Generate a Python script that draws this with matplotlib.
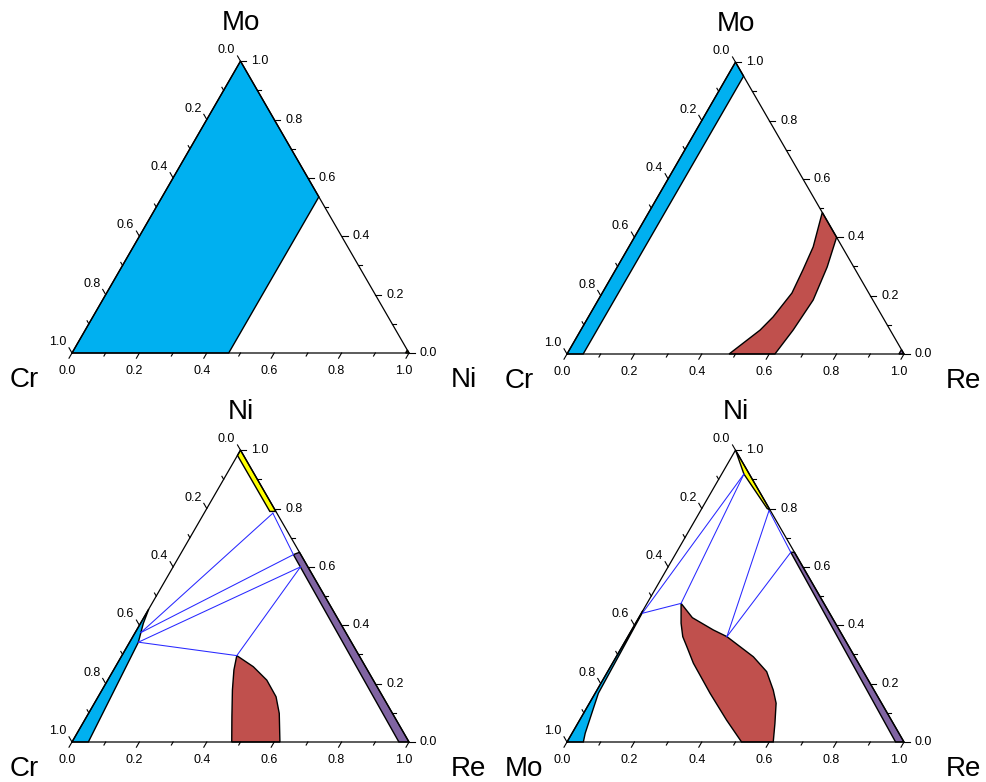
import numpy as np
import matplotlib.pyplot as plt
from matplotlib.patches import Polygon

plt.rcParams['font.family'] = ['Liberation Sans', 'DejaVu Sans']

# compositions are given as (fraction of right-corner element, fraction of top element)

# panel a: Cr - Ni - Mo
a_names = ("Mo", "Cr", "Ni")
a_cyan_b = [0.0, 0.465, 0.465, 0.0]
a_cyan_t = [0.0, 0.0, 0.535, 1.0]
a_yellow_b = [1.0, 0.99, 0.99]
a_yellow_t = [0.0, 0.0, 0.01]

# panel b: Cr - Re - Mo
b_names = ("Mo", "Cr", "Re")
b_cyan_b = [0.0, 0.048, 0.048, 0.0]
b_cyan_t = [0.0, 0.0, 0.952, 1.0]
b_red_b = [0.481, 0.532, 0.548, 0.563, 0.556, 0.547, 0.515, 0.600, 0.623, 0.638, 0.630, 0.617]
b_red_t = [0.0, 0.082, 0.127, 0.209, 0.288, 0.367, 0.485, 0.400, 0.298, 0.185, 0.082, 0.0]
b_purple_b = [1.0, 0.985, 0.985]
b_purple_t = [0.0, 0.0, 0.015]

# panel c: Cr - Re - Ni
c_names = ("Ni", "Cr", "Re")
c_cyan_b = [0.0, 0.0485, 0.026, 0.0084, 0.0]
c_cyan_t = [0.0, 0.0, 0.3415, 0.4066, 0.4557]
c_yellow_b = [0.0, 0.21, 0.192, 0.0]
c_yellow_t = [1.0, 0.79, 0.79, 0.982]
c_purple_b = [0.35, 1.0, 0.97, 0.336]
c_purple_t = [0.65, 0.0, 0.0, 0.642]
c_red_b = [0.474, 0.431, 0.387, 0.357, 0.341, 0.409, 0.472, 0.528, 0.566, 0.617]
c_red_t = [0.0, 0.087, 0.178, 0.247, 0.296, 0.258, 0.212, 0.155, 0.098, 0.0]
c_tie_b0 = [0.017, 0.017, 0.026, 0.026, 0.204, 0.378]
c_tie_t0 = [0.375, 0.375, 0.342, 0.342, 0.784, 0.600]
c_tie_b1 = [0.204, 0.336, 0.378, 0.341, 0.336, 0.341]
c_tie_t1 = [0.784, 0.642, 0.600, 0.296, 0.642, 0.296]

# panel d: Mo - Re - Ni
d_names = ("Ni", "Mo", "Re")
d_cyan_b = [0.0, 0.0485, 0.039, 0.0096, 0.002, 0.0]
d_cyan_t = [0.0, 0.0, 0.030, 0.167, 0.443, 0.45]
d_yellow_b = [0.0, 0.205, 0.194, 0.066]
d_yellow_t = [1.0, 0.795, 0.800, 0.918]
d_purple_b = [0.35, 1.0, 0.975, 0.339]
d_purple_t = [0.65, 0.0, 0.0, 0.650]
d_red_b = [0.101, 0.159, 0.242, 0.294, 0.407, 0.472, 0.523, 0.554, 0.585, 0.612,
           0.518, 0.436, 0.341, 0.240, 0.192, 0.163, 0.135]
d_red_t = [0.475, 0.426, 0.384, 0.361, 0.292, 0.241, 0.178, 0.133, 0.064, 0.0,
           0.0, 0.075, 0.167, 0.270, 0.327, 0.361, 0.407]
d_tie_b0 = [0.003, 0.101, 0.003, 0.203, 0.203, 0.339]
d_tie_t0 = [0.441, 0.475, 0.441, 0.793, 0.793, 0.650]
d_tie_b1 = [0.066, 0.066, 0.101, 0.294, 0.339, 0.294]
d_tie_t1 = [0.918, 0.918, 0.475, 0.361, 0.650, 0.361]

tick_values = np.round(np.arange(0, 1.01, 0.1), 1)

CYAN = "#00B0F0"
RED = "#C0504D"
YELLOW = "#FFFF00"
PURPLE = "#8064A2"
BLUE = "#2828FF"

W, H, S = 987, 782, 337
XMIN, XMAX, YMIN, YMAX = -0.25, 1.3, -0.15, 1.05
R3 = np.sqrt(3) / 2


def tern(b, t):
    b = np.asarray(b, float)
    t = np.asarray(t, float)
    return b + t / 2, t * R3


def make_axes(fig, x0, y0):
    left = (x0 + XMIN * S) / W
    bottom = (H - (y0 - YMIN * S)) / H
    ax = fig.add_axes([left, bottom, (XMAX - XMIN) * S / W, (YMAX - YMIN) * S / H])
    ax.set_xlim(XMIN, XMAX)
    ax.set_ylim(YMIN, YMAX)
    ax.axis('off')
    return ax


def fill(ax, b, t, color):
    x, y = tern(b, t)
    ax.add_patch(Polygon(np.column_stack([x, y]), closed=True, facecolor=color,
                         edgecolor='black', lw=1.0, zorder=2))


def ties(ax, b0, t0, b1, t1):
    x0, y0 = tern(b0, t0)
    x1, y1 = tern(b1, t1)
    for i in range(len(x0)):
        ax.plot([x0[i], x1[i]], [y0[i], y1[i]], color=BLUE, lw=0.75, zorder=3)


def frame(ax, names):
    x, y = tern([0, 1, 0, 0], [0, 0, 1, 0])
    ax.plot(x, y, color='black', lw=0.9, zorder=4)
    px = 1.0 / S
    for i, v in enumerate(tick_values):
        major = i % 2 == 0
        ln = (6 if major else 3.5) * px
        # bottom axis
        bx, by = tern(v, 0)
        ax.plot([bx, bx - 0.5 * ln], [by, by - R3 * ln], color='black', lw=0.8)
        # left axis (left-corner element fraction)
        lx, ly = tern(0, 1 - v)
        ax.plot([lx, lx - 0.5 * ln], [ly, ly + R3 * ln], color='black', lw=0.8)
        # right axis (top element fraction)
        rx, ry = tern(1 - v, v)
        ax.plot([rx, rx + ln], [ry, ry], color='black', lw=0.8)
        if major:
            lab = f"{v:.1f}"
            ax.text(bx - 5 * px, by - 18 * px, lab, ha='center', va='center', fontsize=9)
            ax.text(lx - 14 * px, ly + 11 * px, lab, ha='center', va='center', fontsize=9)
            ax.text(rx + 11 * px, ry, lab, ha='left', va='center', fontsize=9)
    top, left, right = names
    ax.text(0.5, 0.957, top, ha='center', va='baseline', fontsize=20)
    ax.text(-0.184, -0.10, left, ha='left', va='baseline', fontsize=20)
    ax.text(1.125, -0.10, right, ha='left', va='baseline', fontsize=20)


fig = plt.figure(figsize=(W / 100, H / 100), dpi=100)

ax = make_axes(fig, 72, 353)
fill(ax, a_cyan_b, a_cyan_t, CYAN)
fill(ax, a_yellow_b, a_yellow_t, YELLOW)
frame(ax, a_names)

ax = make_axes(fig, 567, 354)
fill(ax, b_cyan_b, b_cyan_t, CYAN)
fill(ax, b_red_b, b_red_t, RED)
fill(ax, b_purple_b, b_purple_t, PURPLE)
frame(ax, b_names)

ax = make_axes(fig, 72, 742)
fill(ax, c_cyan_b, c_cyan_t, CYAN)
fill(ax, c_yellow_b, c_yellow_t, YELLOW)
fill(ax, c_purple_b, c_purple_t, PURPLE)
fill(ax, c_red_b, c_red_t, RED)
ties(ax, c_tie_b0, c_tie_t0, c_tie_b1, c_tie_t1)
frame(ax, c_names)

ax = make_axes(fig, 567, 742)
fill(ax, d_cyan_b, d_cyan_t, CYAN)
fill(ax, d_yellow_b, d_yellow_t, YELLOW)
fill(ax, d_purple_b, d_purple_t, PURPLE)
fill(ax, d_red_b, d_red_t, RED)
ties(ax, d_tie_b0, d_tie_t0, d_tie_b1, d_tie_t1)
frame(ax, d_names)

fig.savefig("out.png", dpi=100)
